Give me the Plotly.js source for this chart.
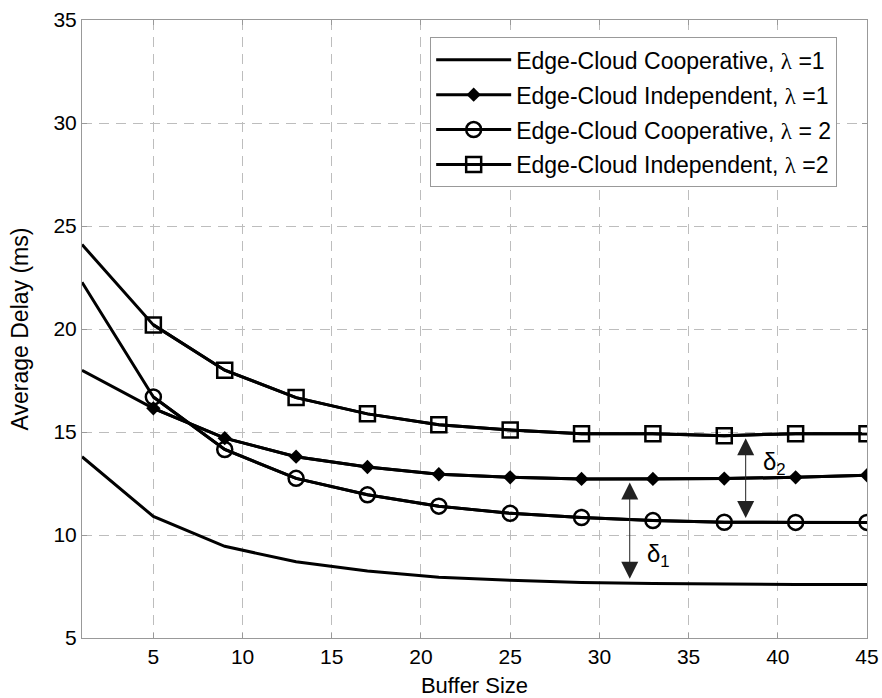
<!DOCTYPE html>
<html>
<head>
<meta charset="utf-8">
<script src="https://cdn.plot.ly/plotly-3.0.1.min.js"></script>
<style>html,body{margin:0;padding:0;background:#fff;}#chart{width:882px;height:698px;}</style>
</head>
<body>
<div id="chart"></div>
<script>
// Buffer sizes (first point has no marker in the reference)
const bufferSize = [1, 5, 9, 13, 17, 21, 25, 29, 33, 37, 41, 45];
const coopL1  = [13.8, 10.9, 9.45, 8.7, 8.25, 7.95, 7.8, 7.7, 7.65, 7.62, 7.6, 7.6];
const indepL1 = [18.0, 16.15, 14.7, 13.8, 13.3, 12.95, 12.8, 12.72, 12.72, 12.74, 12.8, 12.9];
const coopL2  = [22.27, 16.7, 14.15, 12.75, 11.95, 11.4, 11.05, 10.85, 10.7, 10.62, 10.61, 10.61];
const indepL2 = [24.1, 20.2, 18.0, 16.67, 15.88, 15.35, 15.1, 14.92, 14.92, 14.82, 14.92, 14.92];
const lam = '<span style="font-family:\'Liberation Serif\',\'Times New Roman\',serif">λ</span>';
const seriesNames = [
  'Edge-Cloud Cooperative, ' + lam + ' =1',
  'Edge-Cloud Independent, ' + lam + ' =1',
  'Edge-Cloud Cooperative, ' + lam + ' = 2',
  'Edge-Cloud Independent, ' + lam + ' =2'
];
const xTicks = [5, 10, 15, 20, 25, 30, 35, 40, 45];
const yTicks = [5, 10, 15, 20, 25, 30, 35];

const lineStyle = {color: '#000', width: 3};
const markerX = bufferSize.slice(1);
const markerStyles = [
  null,
  {symbol: 'diamond', size: 11, color: '#000'},
  {symbol: 'circle-open', size: 15, color: '#000', line: {width: 2.5, color: '#000'}},
  {symbol: 'square-open', size: 15, color: '#000', line: {width: 2.5, color: '#000'}}
];
const seriesY = [coopL1, indepL1, coopL2, indepL2];
const traces = [];
seriesY.forEach((ys, i) => {
  if (!markerStyles[i]) {
    traces.push({x: bufferSize, y: ys, name: seriesNames[i], mode: 'lines', line: lineStyle, legendgroup: 'g' + i});
  } else {
    traces.push({x: bufferSize, y: ys, mode: 'lines', line: lineStyle, showlegend: false, legendgroup: 'g' + i});
    traces.push({x: markerX, y: ys.slice(1), name: seriesNames[i], mode: 'lines+markers', line: lineStyle,
                 marker: markerStyles[i], legendgroup: 'g' + i});
  }
});

const layout = {
  width: 882, height: 698,
  margin: {l: 82, r: 15, t: 20, b: 60},
  paper_bgcolor: '#fff', plot_bgcolor: '#fff',
  showlegend: true,
  xaxis: {
    range: [1, 45], tickvals: xTicks, ticktext: xTicks.map(String),
    showgrid: true, gridcolor: '#bdbdbd', griddash: '10px,7px', gridwidth: 1,
    zeroline: false, showline: true, linecolor: '#999', linewidth: 1, mirror: 'allticks',
    ticks: 'inside', ticklen: 5, tickcolor: '#999',
    tickfont: {family: 'Arial, sans-serif', size: 21, color: '#000'},
    title: {text: 'Buffer Size', font: {family: 'Arial, sans-serif', size: 22, color: '#000'}, standoff: 10}
  },
  yaxis: {
    range: [5, 35], tickvals: yTicks, ticktext: yTicks.map(String),
    showgrid: true, gridcolor: '#bdbdbd', griddash: '10px,7px', gridwidth: 1,
    zeroline: false, showline: true, linecolor: '#999', linewidth: 1, mirror: 'allticks',
    ticks: 'inside', ticklen: 5, tickcolor: '#999',
    tickfont: {family: 'Arial, sans-serif', size: 21, color: '#000'},
    title: {text: 'Average Delay (ms)', font: {family: 'Arial, sans-serif', size: 23, color: '#000'}, standoff: 18}
  },
  legend: {
    x: 0.962, y: 0.972, xanchor: 'right', yanchor: 'top',
    bgcolor: '#fff', bordercolor: '#999', borderwidth: 1,
    font: {family: 'Arial, sans-serif', size: 23, color: '#000'},
    traceorder: 'grouped', tracegroupgap: 2, itemwidth: 75
  },
  annotations: [
    {x: 31.7, y: 12.55, ax: 31.7, ay: 7.8, xref: 'x', yref: 'y', axref: 'x', ayref: 'y',
     text: '', showarrow: true, arrowhead: 2, startarrowhead: 2, arrowside: 'end+start',
     arrowsize: 3.4, startarrowsize: 3.4, arrowwidth: 1, arrowcolor: '#222'},
    {x: 38.2, y: 14.7, ax: 38.2, ay: 10.75, xref: 'x', yref: 'y', axref: 'x', ayref: 'y',
     text: '', showarrow: true, arrowhead: 2, startarrowhead: 2, arrowside: 'end+start',
     arrowsize: 3.4, startarrowsize: 3.4, arrowwidth: 1, arrowcolor: '#222'},
    {x: 33.3, y: 9.0, xref: 'x', yref: 'y', text: 'δ<sub>1</sub>', showarrow: false,
     font: {family: 'Arial, sans-serif', size: 24, color: '#000'}},
    {x: 39.8, y: 13.45, xref: 'x', yref: 'y', text: 'δ<sub>2</sub>', showarrow: false,
     font: {family: 'Arial, sans-serif', size: 24, color: '#000'}}
  ]
};

Plotly.newPlot('chart', traces, layout, {displayModeBar: false, staticPlot: true});
</script>
</body>
</html>
